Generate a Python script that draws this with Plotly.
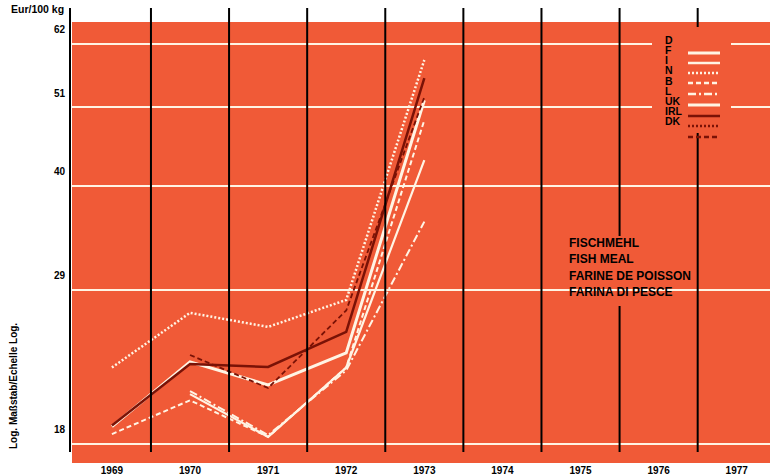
import plotly.graph_objects as go

# prices in Eur/100 kg (log scale)
years = [1969, 1970, 1971, 1972, 1973]
price_d = [19.0, 23.2, 21.6, 23.85, 52.1]
price_f = [None, 21.0, 18.4, 22.8, 43.3]
price_i = [22.8, 27.0, 25.85, 28.1, 59.0]
price_n = [18.56, 20.6, 18.4, 22.8, 49.0]
price_b = [None, 21.2, 18.5, 22.6, 35.8]
price_uk = [19.06, 23.05, 22.84, 25.45, 55.8]
price_dk = [None, 23.7, 21.4, 27.2, 52.6]

axis_years = [1969, 1970, 1971, 1972, 1973, 1974, 1975, 1976, 1977]
y_ticks = [18, 29, 40, 51, 62]
countries = ['D', 'F', 'I', 'N', 'B', 'L', 'UK', 'IRL', 'DK']
title_lines = ['FISCHMEHL', 'FISH MEAL', 'FARINE DE POISSON', 'FARINA DI PESCE']

ORANGE = '#f05a37'
WHITE = '#fff4e4'
DARK = '#7a1206'
FONT = 'Liberation Sans, Arial, sans-serif'

styles = {
    'D': dict(color=WHITE, width=3, dash='solid'),
    'F': dict(color=WHITE, width=2.2, dash='solid'),
    'I': dict(color=WHITE, width=2.5, dash='2px,2px'),
    'N': dict(color=WHITE, width=2, dash='5px,3px'),
    'B': dict(color=WHITE, width=2, dash='8px,3px,2px,3px'),
    'L': dict(color=WHITE, width=3, dash='solid'),
    'UK': dict(color=DARK, width=2.5, dash='solid'),
    'IRL': dict(color=DARK, width=2, dash='2px,2px'),
    'DK': dict(color=DARK, width=1.8, dash='5px,3px'),
}

series = {
    'D': price_d, 'F': price_f, 'I': price_i, 'N': price_n,
    'B': price_b, 'UK': price_uk, 'DK': price_dk,
}

# plot area in pixels
L, T, W, H = 72, 22, 698, 441


def px_x(p):
    return (p - L) / W


def px_y(p):
    return (T + H - p) / H


fig = go.Figure()
for c in ['B', 'F', 'N', 'D', 'DK', 'UK', 'I']:
    fig.add_trace(go.Scatter(x=years, y=series[c], mode='lines', name=c,
                             line=styles[c], connectgaps=False, showlegend=False))

shapes = []
# orange box behind legend (hides grid lines)
shapes.append(dict(type='rect', xref='paper', yref='paper', x0=px_x(652), x1=px_x(731),
                   y0=px_y(133), y1=px_y(30), fillcolor=ORANGE, line_width=0, layer='above'))

# black separators between years
for yr in axis_years[:-1]:
    xs = yr + 0.5
    if xs == 1975.5:
        segs = [(8, 236), (306, 452)]
    elif xs == 1976.5:
        segs = [(8, 27), (133, 452)]
    else:
        segs = [(8, 452)]
    for a, b in segs:
        shapes.append(dict(type='line', xref='x', yref='paper', x0=xs, x1=xs,
                           y0=px_y(b), y1=px_y(a), line=dict(color='black', width=2),
                           layer='above'))

# left axis line
shapes.append(dict(type='line', xref='paper', yref='paper', x0=px_x(70), x1=px_x(70),
                   y0=px_y(452), y1=px_y(8), line=dict(color='black', width=2)))

# legend samples
sample_y = [53, 63, 73, 83, 94, 105, 116, 126, 137]
for c, sy in zip(countries, sample_y):
    st = styles[c]
    shapes.append(dict(type='line', xref='paper', yref='paper', x0=px_x(688), x1=px_x(720),
                       y0=px_y(sy), y1=px_y(sy), layer='above',
                       line=dict(color=st['color'], width=max(st['width'], 2.5), dash=st['dash'])))

annotations = []
label_y = [40, 50, 60, 70, 81, 91, 101, 111, 121]
for c, ly in zip(countries, label_y):
    annotations.append(dict(text=c, x=px_x(663), y=px_y(ly), xref='paper', yref='paper',
                            xanchor='left', yanchor='middle', showarrow=False,
                            font=dict(family=FONT, size=10.5, color='black', weight='bold')))

for i, t in enumerate(title_lines):
    annotations.append(dict(text=t, x=px_x(567), y=px_y(243 + i * 16.3), xref='paper', yref='paper',
                            xanchor='left', yanchor='middle', showarrow=False,
                            font=dict(family=FONT, size=12, color='black', weight='bold')))

annotations.append(dict(text='Eur/100 kg', x=px_x(37), y=px_y(9), xref='paper', yref='paper',
                        xanchor='center', yanchor='middle', showarrow=False,
                        font=dict(family=FONT, size=10.5, color='black', weight='bold')))
annotations.append(dict(text='Log. Maßstab/Echelle Log.', x=px_x(13), y=px_y(386),
                        xref='paper', yref='paper', xanchor='center', yanchor='middle',
                        textangle=-90, showarrow=False,
                        font=dict(family=FONT, size=10, color='black', weight='bold')))

fig.update_layout(
    width=770,
    height=476,
    margin=dict(l=L, r=770 - L - W, t=T, b=476 - T - H, pad=0),
    paper_bgcolor='white',
    plot_bgcolor=ORANGE,
    showlegend=False,
    shapes=shapes,
    annotations=annotations,
    xaxis=dict(
        range=[1968.489, 1977.426],
        tickvals=axis_years,
        ticktext=[str(y) for y in axis_years],
        showgrid=False,
        zeroline=False,
        showline=False,
        ticks='',
        ticklabelstandoff=0,
        tickfont=dict(family=FONT, size=10, color='black', weight='bold'),
        fixedrange=True,
    ),
    yaxis=dict(
        type='log',
        range=[1.2297, 1.8219],
        tickvals=y_ticks,
        ticktext=[str(v) for v in y_ticks],
        showgrid=True,
        gridcolor=WHITE,
        gridwidth=1.5,
        zeroline=False,
        showline=False,
        ticks='',
        ticklabelshift=-14,
        ticklabelstandoff=6,
        tickfont=dict(family=FONT, size=10, color='black', weight='bold'),
        fixedrange=True,
    ),
)

# drop the browser's default body margin so the figure sits at the page corner
fig.write_html('out.html', config={'displayModeBar': False},
               post_script="document.body.style.margin='0';")
